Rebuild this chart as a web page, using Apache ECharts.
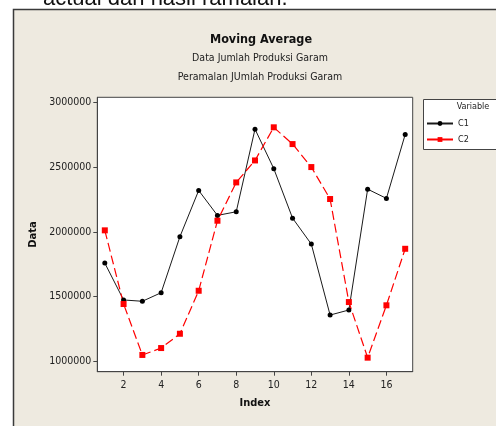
<!DOCTYPE html>
<html>
<head>
<meta charset="utf-8">
<script src="https://cdn.jsdelivr.net/npm/echarts@6/dist/echarts.min.js"></script>
<style>
html,body{margin:0;padding:0;background:#ffffff;}
#chart{width:496px;height:426px;}
</style>
</head>
<body>
<div id="chart"></div>
<script>
var indexValues = [1, 2, 3, 4, 5, 6, 7, 8, 9, 10, 11, 12, 13, 14, 15, 16, 17];
var c1Values = [1759000, 1475000, 1465000, 1531000, 1962000, 2318000, 2126000, 2154000, 2790000, 2486000, 2105000, 1905000, 1359000, 1398000, 2328000, 2257000, 2749000];
var c2Values = [2011000, 1444000, 1052000, 1105000, 1215000, 1546000, 2085000, 2380000, 2549000, 2804000, 2675000, 2498000, 2252000, 1459000, 1031000, 1434000, 1869000];
var xTicks = [2, 4, 6, 8, 10, 12, 14, 16];
var yTicks = [1000000, 1500000, 2000000, 2500000, 3000000];
var seriesNames = ['C1', 'C2'];
var titleText = 'Moving Average';
var subtitle1 = 'Data Jumlah Produksi Garam';
var subtitle2 = 'Peramalan JUmlah Produksi Garam';
var captionText = 'actual dan hasil ramalan.';

function pairs(xs, ys) {
  var out = [];
  for (var i = 0; i < xs.length; i++) out.push([xs[i], ys[i]]);
  return out;
}

var FONT = '"DejaVu Sans Condensed", "DejaVu Sans", sans-serif';
var chart = echarts.init(document.getElementById('chart'), null, {renderer: 'canvas'});
chart.setOption({
  backgroundColor: 'transparent',
  animation: false,
  graphic: [
    {type: 'text', z: 1, style: {x: 43, y: -1, text: captionText, font: '22px "Liberation Sans", Arial, sans-serif', fill: '#111', verticalAlign: 'middle', align: 'left'}},
    {type: 'rect', z: 2, shape: {x: 13.5, y: 9.5, width: 600, height: 600}, style: {fill: '#EEEAE0', stroke: '#3a3a3a', lineWidth: 1.5}},
    {type: 'text', z: 5, style: {x: 261, y: 40, text: titleText, font: 'bold 12.5px ' + FONT, fill: '#111', align: 'center', verticalAlign: 'middle'}},
    {type: 'text', z: 5, style: {x: 260, y: 58.5, text: subtitle1, font: '10.5px ' + FONT, fill: '#222', align: 'center', verticalAlign: 'middle'}},
    {type: 'text', z: 5, style: {x: 260, y: 77.5, text: subtitle2, font: '10.5px ' + FONT, fill: '#222', align: 'center', verticalAlign: 'middle'}},
    {type: 'rect', z: 5, shape: {x: 423.5, y: 99.5, width: 100, height: 50}, style: {fill: '#ffffff', stroke: '#444', lineWidth: 1}},
    {type: 'text', z: 6, style: {x: 473, y: 107, text: 'Variable', font: '9px ' + FONT, fill: '#222', align: 'center', verticalAlign: 'middle'}}
  ],
  grid: {
    left: 97.3, top: 97.3, right: 83.3, bottom: 54.3,
    show: true, backgroundColor: '#ffffff', borderColor: '#444', borderWidth: 1, z: 3
  },
  legend: {
    orient: 'vertical', left: 426, top: 118, itemWidth: 26, itemHeight: 6, itemGap: 5,
    textStyle: {fontFamily: FONT, fontSize: 9, color: '#222', lineHeight: 11},
    padding: 0, z: 7,
    data: [
      {name: 'C1', lineStyle: {type: 'solid'}},
      {name: 'C2', lineStyle: {type: 'solid'}}
    ]
  },
  xAxis: {
    type: 'value', min: 0.6, max: 17.4, z: 4,
    name: 'Index', nameLocation: 'middle', nameGap: 26,
    nameTextStyle: {fontFamily: FONT, fontWeight: 'bold', fontSize: 11, color: '#111'},
    axisLine: {show: true, lineStyle: {color: '#444', width: 1}},
    axisTick: {show: true, length: 4, lineStyle: {color: '#444'}, customValues: xTicks},
    axisLabel: {fontFamily: FONT, fontSize: 10.5, color: '#222', margin: 8, customValues: xTicks},
    splitLine: {show: false}
  },
  yAxis: {
    type: 'value', min: 923000, max: 3035000, z: 4,
    name: 'Data', nameLocation: 'middle', nameGap: 57, nameRotate: 90,
    nameTextStyle: {fontFamily: FONT, fontWeight: 'bold', fontSize: 11, color: '#111'},
    axisLine: {show: true, lineStyle: {color: '#444', width: 1}},
    axisTick: {show: true, length: 4, lineStyle: {color: '#444'}, customValues: yTicks},
    axisLabel: {fontFamily: FONT, fontSize: 10.5, color: '#222', margin: 6, customValues: yTicks,
      formatter: function (v) { return String(Math.round(v)); }},
    splitLine: {show: false}
  },
  series: [
    {
      name: seriesNames[0], type: 'line', z: 5,
      data: pairs(indexValues, c1Values),
      symbol: 'circle', symbolSize: 5,
      itemStyle: {color: '#000000'},
      lineStyle: {color: '#1a1a1a', width: 1}
    },
    {
      name: seriesNames[1], type: 'line', z: 5,
      data: pairs(indexValues, c2Values),
      symbol: 'rect', symbolSize: 6,
      itemStyle: {color: '#ff0000'},
      lineStyle: {color: '#ff0000', width: 1.2, type: [9, 4]}
    }
  ]
});
</script>
</body>
</html>
